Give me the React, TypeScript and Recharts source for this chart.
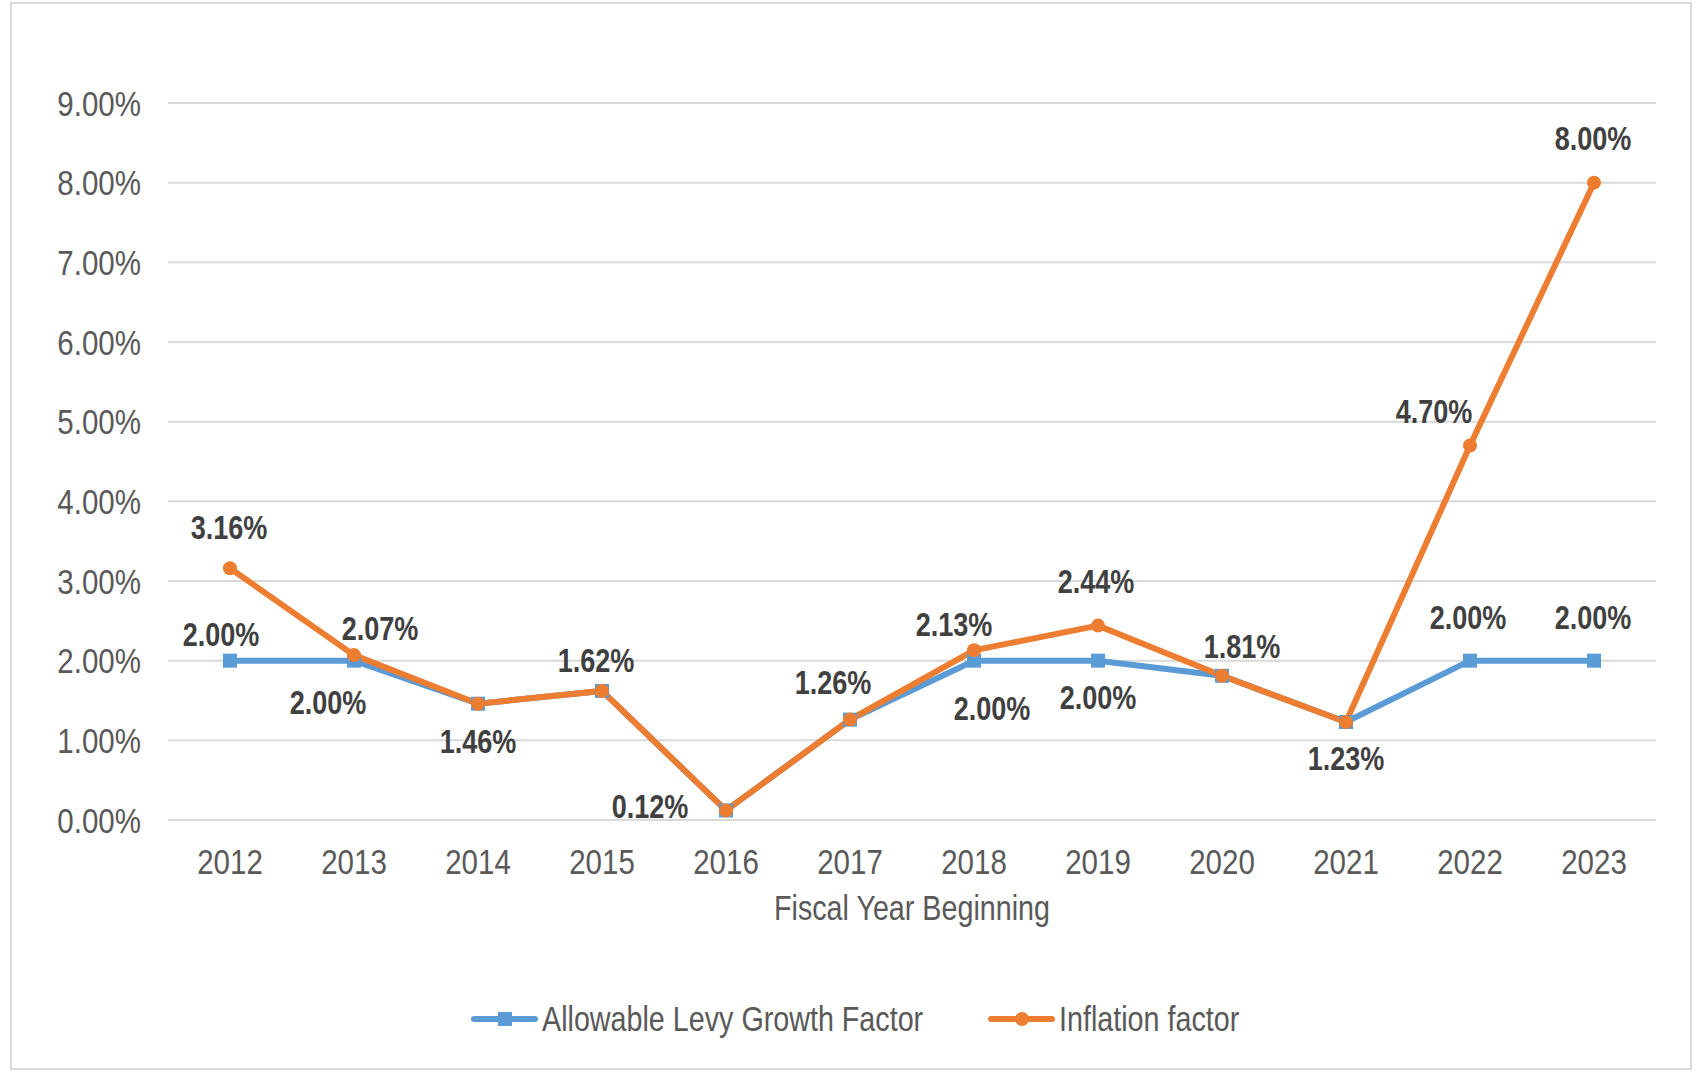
import React from "react"
import { LineChart, Line, XAxis, YAxis, CartesianGrid, LabelList } from "recharts"

const years = ["2012", "2013", "2014", "2015", "2016", "2017", "2018", "2019", "2020", "2021", "2022", "2023"]
const allowableLevy = [2.0, 2.0, 1.46, 1.62, 0.12, 1.26, 2.0, 2.0, 1.81, 1.23, 2.0, 2.0]
const inflation = [3.16, 2.07, 1.46, 1.62, 0.12, 1.26, 2.13, 2.44, 1.81, 1.23, 4.7, 8.0]
const yTicks = [0, 1, 2, 3, 4, 5, 6, 7, 8, 9]

const BLUE = "#5B9BD5"
const ORANGE = "#ED7D31"
const FONT = "'Liberation Sans', Arial, sans-serif"
// the original uses a narrow face; squeeze Liberation Sans horizontally to match
const NARROW = 0.82

// label offsets from each point (px); null = no label for that point
const levyLabelOffsets: ([number, number] | null)[] = [
  [-9, -26], [-26, 42], null, null, null, null, [18, 48], [0, 37], null, null, [-2, -43], [-1, -43],
]
const inflationLabelOffsets: ([number, number] | null)[] = [
  [-1, -41], [26, -27], [0, 38], [-6, -31], [-76, -4], [-17, -37], [-20, -26], [-2, -44], [20, -30], [0, 36], [-36, -34], [-1, -44],
]

const chartData = years.map((year, i) => ({
  year,
  levy: allowableLevy[i],
  inflation: inflation[i],
}))

function NarrowText({ x, y, anchor = "middle", dy = "0.355em", size = 36, bold = false, color = "#595959", children }: any) {
  return (
    <text
      transform={`translate(${x},${y}) scale(${NARROW},1)`}
      x={0}
      y={0}
      dy={dy}
      textAnchor={anchor}
      fontFamily={FONT}
      fontWeight={bold ? "bold" : "normal"}
      fontSize={size}
      fill={color}
    >
      {children}
    </text>
  )
}

const makeLabel = (offsets: ([number, number] | null)[]) => (props: any) => {
  const { x, y, value, index } = props
  const off = offsets[index]
  if (!off) return null
  return (
    <NarrowText x={x + off[0]} y={y + off[1]} size={33} bold color="#404040">
      {`${Number(value).toFixed(2)}%`}
    </NarrowText>
  )
}

const XTick = (props: any) => {
  const { x, y, payload } = props
  return (
    <NarrowText x={x} y={y} dy="0.71em">
      {payload.value}
    </NarrowText>
  )
}

const YTick = (props: any) => {
  const { x, y, payload } = props
  return (
    <NarrowText x={x} y={y} anchor="end">
      {`${Number(payload.value).toFixed(2)}%`}
    </NarrowText>
  )
}

const AxisTitle = (props: any) => {
  const { viewBox } = props
  return (
    <NarrowText x={viewBox.x + viewBox.width / 2} y={viewBox.y + 88} size={35}>
      Fiscal Year  Beginning
    </NarrowText>
  )
}

const SquareDot = (props: any) => {
  const { cx, cy, index } = props
  return <rect key={`sq-${index}`} x={cx - 7} y={cy - 7} width={14} height={14} fill={BLUE} />
}

const RoundDot = (props: any) => {
  const { cx, cy, index } = props
  return <circle key={`rd-${index}`} cx={cx} cy={cy} r={7} fill={ORANGE} />
}

export default function App() {
  return (
    <div
      style={{
        position: "absolute",
        left: 10,
        top: 2,
        width: 1678,
        height: 1064,
        border: "2px solid #D9D9D9",
        background: "#fff",
      }}
    >
      <LineChart width={1678} height={1064} data={chartData} margin={{ top: 99, right: 34, left: 0, bottom: 148 }}>
        <CartesianGrid vertical={false} stroke="#D9D9D9" strokeWidth={2} />
        <XAxis
          dataKey="year"
          height={100}
          padding={{ left: 62, right: 62 }}
          axisLine={false}
          tickLine={false}
          tickSize={0}
          tickMargin={28}
          tick={XTick}
          label={AxisTitle}
        />
        <YAxis
          width={156}
          domain={[0, 9]}
          ticks={yTicks}
          axisLine={false}
          tickLine={false}
          tickSize={0}
          tickMargin={27}
          tick={YTick}
        />
        <Line
          dataKey="levy"
          stroke={BLUE}
          strokeWidth={6}
          dot={SquareDot}
          activeDot={false}
          isAnimationActive={false}
        >
          <LabelList dataKey="levy" content={makeLabel(levyLabelOffsets)} />
        </Line>
        <Line
          dataKey="inflation"
          stroke={ORANGE}
          strokeWidth={6}
          dot={RoundDot}
          activeDot={false}
          isAnimationActive={false}
        >
          <LabelList dataKey="inflation" content={makeLabel(inflationLabelOffsets)} />
        </Line>
      </LineChart>
      <svg width={1678} height={50} style={{ position: "absolute", left: 0, top: 990 }}>
        <line x1={462} y1={25} x2={523} y2={25} stroke={BLUE} strokeWidth={6} strokeLinecap="round" />
        <rect x={486} y={18} width={14} height={14} fill={BLUE} />
        <NarrowText x={530} y={25} anchor="start" size={35}>
          Allowable Levy Growth Factor
        </NarrowText>
        <line x1={979} y1={25} x2={1040} y2={25} stroke={ORANGE} strokeWidth={6} strokeLinecap="round" />
        <circle cx={1010} cy={25} r={7} fill={ORANGE} />
        <NarrowText x={1047} y={25} anchor="start" size={35}>
          Inflation factor
        </NarrowText>
      </svg>
    </div>
  )
}
